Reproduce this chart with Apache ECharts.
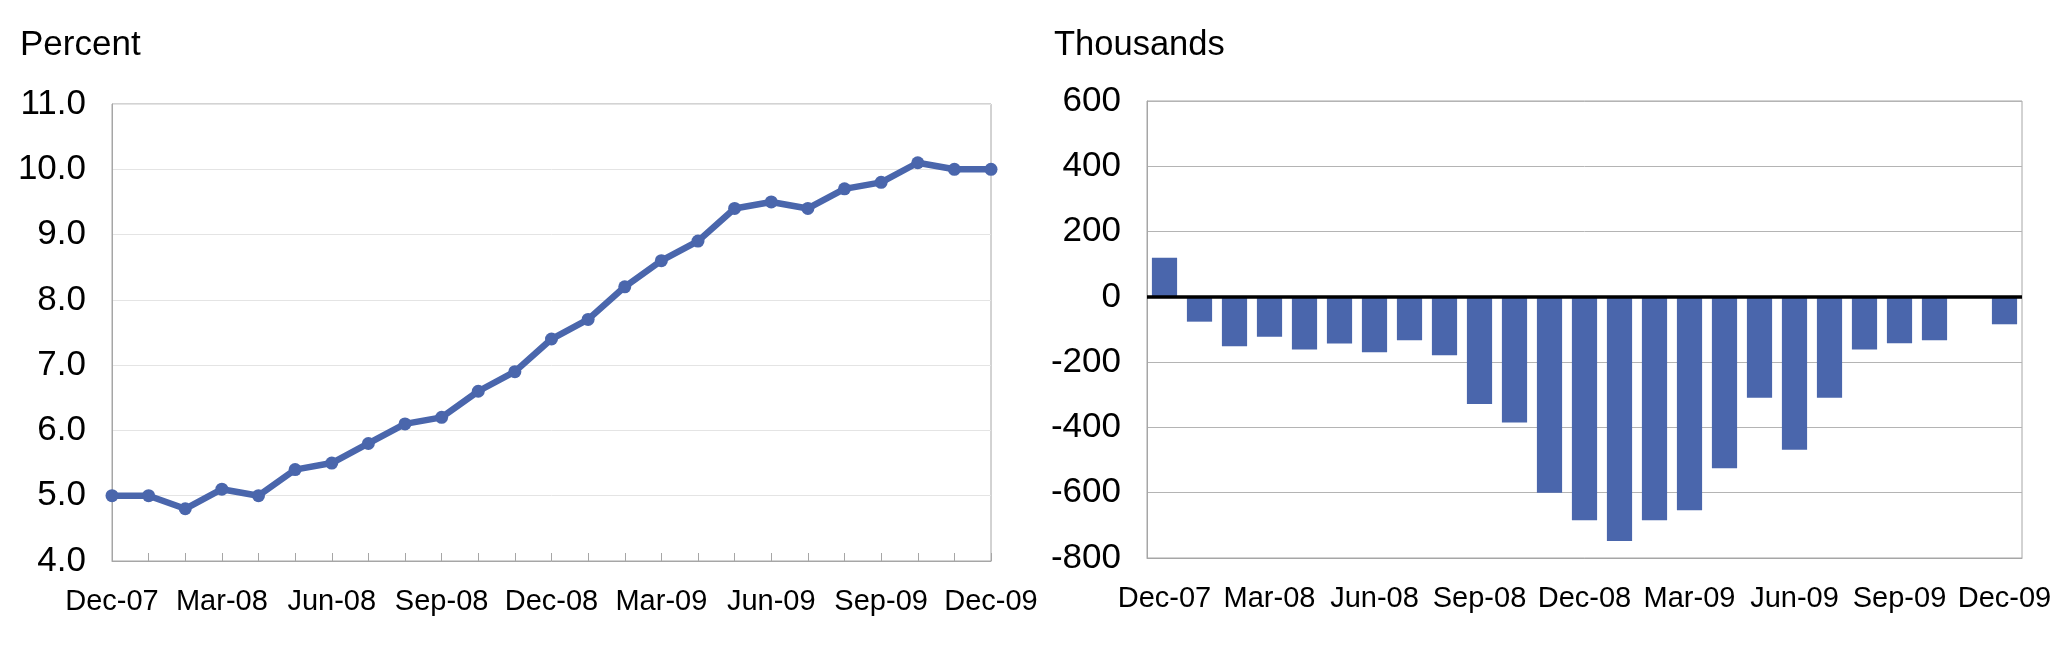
<!DOCTYPE html>
<html>
<head>
<meta charset="utf-8">
<script src="https://cdn.jsdelivr.net/npm/echarts@6/dist/echarts.min.js"></script>
<style>
html,body{margin:0;padding:0;background:#fff;}
#c{width:2071px;height:651px;}
</style>
</head>
<body>
<div id="c"></div>
<script>
// Months Dec-07 .. Dec-09
const months = ['Dec-07','Jan-08','Feb-08','Mar-08','Apr-08','May-08','Jun-08','Jul-08','Aug-08','Sep-08','Oct-08','Nov-08',
  'Dec-08','Jan-09','Feb-09','Mar-09','Apr-09','May-09','Jun-09','Jul-09','Aug-09','Sep-09','Oct-09','Nov-09','Dec-09'];
// Unemployment rate, percent
const unemploymentRate = [5.0,5.0,4.8,5.1,5.0,5.4,5.5,5.8,6.1,6.2,6.6,6.9,7.4,7.7,8.2,8.6,8.9,9.4,9.5,9.4,9.7,9.8,10.1,10.0,10.0];
// Payroll employment change, thousands
const payrollChange = [120,-76,-151,-122,-161,-143,-170,-133,-179,-328,-385,-600,-684,-748,-684,-654,-525,-309,-468,-309,-161,-142,-133,0,-84];
// Axis settings
const leftTicks = {min:4, max:11, interval:1};
const rightTicks = {min:-800, max:600, interval:200};
const leftTitle = 'Percent';
const rightTitle = 'Thousands';

const blue = '#4A66AC';
const font = 'Liberation Sans, Arial, sans-serif';
const chart = echarts.init(document.getElementById('c'), null, {renderer:'canvas'});
chart.setOption({
  animation:false,
  backgroundColor:'#fff',
  title:[
    {text:leftTitle, left:15, top:23, textStyle:{fontFamily:font, fontSize:35, fontWeight:'normal', color:'#000'}},
    {text:rightTitle, left:1049, top:23, textStyle:{fontFamily:font, fontSize:34.5, fontWeight:'normal', color:'#000'}}
  ],
  grid:[
    {left:112, right:1080, top:104, bottom:90, show:true, borderColor:'#a6a6a6', borderWidth:1},
    {left:1147, right:49, top:101, bottom:93, show:true, borderColor:'#a6a6a6', borderWidth:1}
  ],
  xAxis:[
    {gridIndex:0, type:'category', data:months, boundaryGap:false,
     axisLine:{lineStyle:{color:'#a6a6a6', width:1}},
     axisTick:{show:true, inside:true, length:8, interval:0, lineStyle:{color:'#a6a6a6'}},
     axisLabel:{interval:2, margin:26, fontFamily:font, fontSize:29, color:'#000'},
     splitLine:{show:false}},
    {gridIndex:1, type:'category', data:months, boundaryGap:true,
     axisLine:{onZero:false, lineStyle:{color:'#a6a6a6', width:1}},
     axisTick:{show:false},
     axisLabel:{interval:2, margin:26, fontFamily:font, fontSize:29, color:'#000'},
     splitLine:{show:false}}
  ],
  yAxis:[
    {gridIndex:0, type:'value', min:leftTicks.min, max:leftTicks.max, interval:leftTicks.interval,
     axisLine:{show:true, lineStyle:{color:'#a6a6a6'}}, axisTick:{show:false},
     axisLabel:{margin:26, fontFamily:font, fontSize:35, color:'#000', formatter:v=>v.toFixed(1)},
     splitLine:{lineStyle:{color:'#e4e4e4', width:1}}},
    {gridIndex:1, type:'value', min:rightTicks.min, max:rightTicks.max, interval:rightTicks.interval,
     axisLine:{show:true, lineStyle:{color:'#a6a6a6'}}, axisTick:{show:false},
     axisLabel:{margin:26, fontFamily:font, fontSize:35, color:'#000'},
     splitLine:{lineStyle:{color:'#b4b4b4', width:1}}}
  ],
  series:[
    {type:'line', xAxisIndex:0, yAxisIndex:0, data:unemploymentRate,
     lineStyle:{color:blue, width:6.5}, itemStyle:{color:blue},
     symbol:'circle', symbolSize:13, showSymbol:true, z:3},
    {type:'bar', xAxisIndex:1, yAxisIndex:1, data:payrollChange,
     itemStyle:{color:blue}, barCategoryGap:'28%',
     markLine:{silent:true, symbol:'none', label:{show:false},
       lineStyle:{color:'#000', width:3.5, type:'solid'},
       data:[{yAxis:0}]}}
  ]
});
</script>
</body>
</html>
